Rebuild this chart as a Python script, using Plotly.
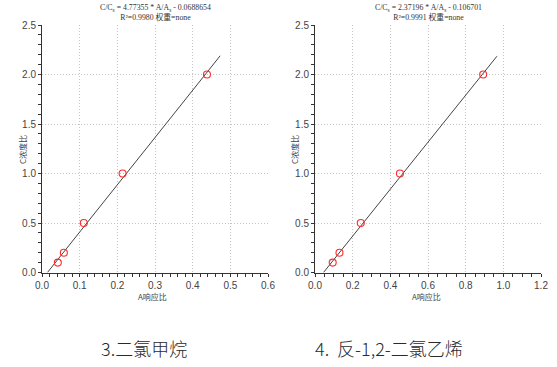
import plotly.graph_objects as go

# ---- data ----
conc_ratio = [0.1, 0.2, 0.5, 1.0, 2.0]
left_resp = [0.042, 0.058, 0.111, 0.214, 0.438]
right_resp = [0.094, 0.130, 0.243, 0.451, 0.893]
left_slope, left_icpt = 4.77355, -0.0688654
right_slope, right_icpt = 2.37196, -0.106701
left_fit_x = [0.0144, 0.473]
right_fit_x = [0.045, 0.966]
left_eq = "C/C<sub>s</sub> = 4.77355 * A/A<sub>s</sub> - 0.0688654<br>R²=0.9980 权重=none"
right_eq = "C/C<sub>s</sub> = 2.37196 * A/A<sub>s</sub> - 0.106701<br>R²=0.9991 权重=none"
left_caption = "3.二氯甲烷"
right_caption = "4.  反-1,2-二氯乙烯"
x_title = "A响应比"
y_title = "C浓度比"
left_xrange, right_xrange = [0, 0.6], [0, 1.2]
yrange = [0, 2.5]

W, H = 557, 367
ydom = [(H - 272.5) / H, (H - 25) / H]
left_dom = [42 / W, 268 / W]
right_dom = [315 / W, 541 / W]

CJK = "Noto Sans CJK SC"
DARK = "#333333"
GRAY = "#a0a0a0"
tickfont = dict(family="Liberation Sans, Arial", size=10, color="#444444")
titlefont = dict(family=CJK, size=8, color="#444444")

fig = go.Figure()


def add_panel(idx, xs, slope, icpt, fit_x, xr, xdt, xminor, eq, caption, dom,
              cap_x, ytitle_x):
    xa = "x" if idx == 1 else f"x{idx}"
    ya = "y" if idx == 1 else f"y{idx}"
    fit_y = [slope * v + icpt for v in fit_x]
    fig.add_trace(go.Scatter(x=fit_x, y=fit_y, mode="lines", xaxis=xa, yaxis=ya,
                             line=dict(color="#444444", width=1), showlegend=False))
    fig.add_trace(go.Scatter(x=xs, y=conc_ratio, mode="markers", xaxis=xa, yaxis=ya,
                             marker=dict(symbol="circle-open", size=7, color="#ff2a2a",
                                         line=dict(width=1.1, color="#ff2a2a")),
                             showlegend=False))
    n_in = idx + 2
    n_top = idx + 4
    base_x = dict(range=xr, dtick=xdt, tick0=0, fixedrange=True, automargin=False)
    base_y = dict(range=yrange, dtick=0.5, tick0=0, fixedrange=True, automargin=False)
    key = "" if idx == 1 else str(idx)
    fig.layout["xaxis" + key] = dict(
        base_x, domain=dom, anchor=ya, side="bottom", showline=True, linecolor=DARK,
        linewidth=1, ticks="outside", ticklen=3, tickcolor=DARK, tickformat=".1f",
        tickfont=tickfont, showgrid=True, gridcolor="#c4c4c4", griddash="1px,2px",
        gridwidth=1, zeroline=False,
        minor=dict(dtick=xminor, tick0=0, ticks="outside", ticklen=3, tickcolor=DARK,
                   showgrid=False))
    fig.layout["yaxis" + key] = dict(
        base_y, domain=ydom, anchor=xa, side="left", showline=True, linecolor=DARK,
        linewidth=1, ticks="outside", ticklen=3, tickcolor=DARK, tickformat=".1f",
        tickfont=tickfont, showgrid=True, gridcolor="#c4c4c4", griddash="1px,2px",
        gridwidth=1, zeroline=False,
        minor=dict(dtick=0.1, tick0=0, ticks="outside", ticklen=3, tickcolor=DARK,
                   showgrid=False))
    fig.layout[f"xaxis{n_in}"] = dict(
        base_x, overlaying=xa, anchor=ya, side="bottom", showline=False,
        ticks="inside", ticklen=3, tickcolor=DARK, showticklabels=False, showgrid=False,
        zeroline=False,
        minor=dict(dtick=xminor, tick0=0, ticks="inside", ticklen=3, tickcolor=DARK))
    fig.layout[f"yaxis{n_in}"] = dict(
        base_y, overlaying=ya, anchor=xa, side="left", showline=False,
        ticks="inside", ticklen=3, tickcolor=DARK, showticklabels=False, showgrid=False,
        zeroline=False,
        minor=dict(dtick=0.1, tick0=0, ticks="inside", ticklen=3, tickcolor=DARK))
    fig.layout[f"xaxis{n_top}"] = dict(
        base_x, overlaying=xa, anchor=ya, side="top", showline=True, linecolor=GRAY,
        linewidth=1.5, ticks="inside", ticklen=3, tickcolor=DARK, showticklabels=False,
        showgrid=False, zeroline=False,
        minor=dict(dtick=xminor, tick0=0, ticks="inside", ticklen=3, tickcolor=DARK))
    fig.layout[f"yaxis{n_top}"] = dict(
        base_y, overlaying=ya, anchor=xa, side="right", showline=True, linecolor=GRAY,
        linewidth=2.5, ticks="inside", ticklen=3, tickcolor=DARK, showticklabels=False,
        showgrid=False, zeroline=False,
        minor=dict(dtick=0.1, tick0=0, ticks="inside", ticklen=3, tickcolor=DARK))
    cx = (dom[0] + dom[1]) / 2
    fig.add_annotation(text=eq, x=cx, y=1 - 1 / H, xref="paper", yref="paper",
                       xanchor="center", yanchor="top", showarrow=False, align="center",
                       font=dict(family="Liberation Serif, " + CJK, size=7.8, color="#333333"))
    fig.add_annotation(text=x_title, x=cx - 2 / W, y=(H - 296) / H, xref="paper",
                       yref="paper", xanchor="center", yanchor="middle", showarrow=False,
                       font=titlefont)
    fig.add_annotation(text=y_title, x=ytitle_x / W, y=(H - 150) / H, xref="paper",
                       yref="paper", xanchor="center", yanchor="middle", showarrow=False,
                       textangle=-90, font=titlefont)
    fig.add_annotation(text=caption, x=cap_x / W, y=(H - 348) / H, xref="paper",
                       yref="paper", xanchor="center", yanchor="middle", showarrow=False,
                       font=dict(family=CJK, size=18, color="#2a2a2a", weight=300))


add_panel(1, left_resp, left_slope, left_icpt, left_fit_x, left_xrange, 0.1, 0.02,
          left_eq, left_caption, left_dom, 144, 22)
add_panel(2, right_resp, right_slope, right_icpt, right_fit_x, right_xrange, 0.2, 0.05,
          right_eq, right_caption, right_dom, 389, 294)

fig.update_layout(width=W, height=H, margin=dict(l=0, r=0, t=0, b=0),
                  paper_bgcolor="white", plot_bgcolor="white", showlegend=False)

fig.write_html("out.html", config={"displayModeBar": False})
